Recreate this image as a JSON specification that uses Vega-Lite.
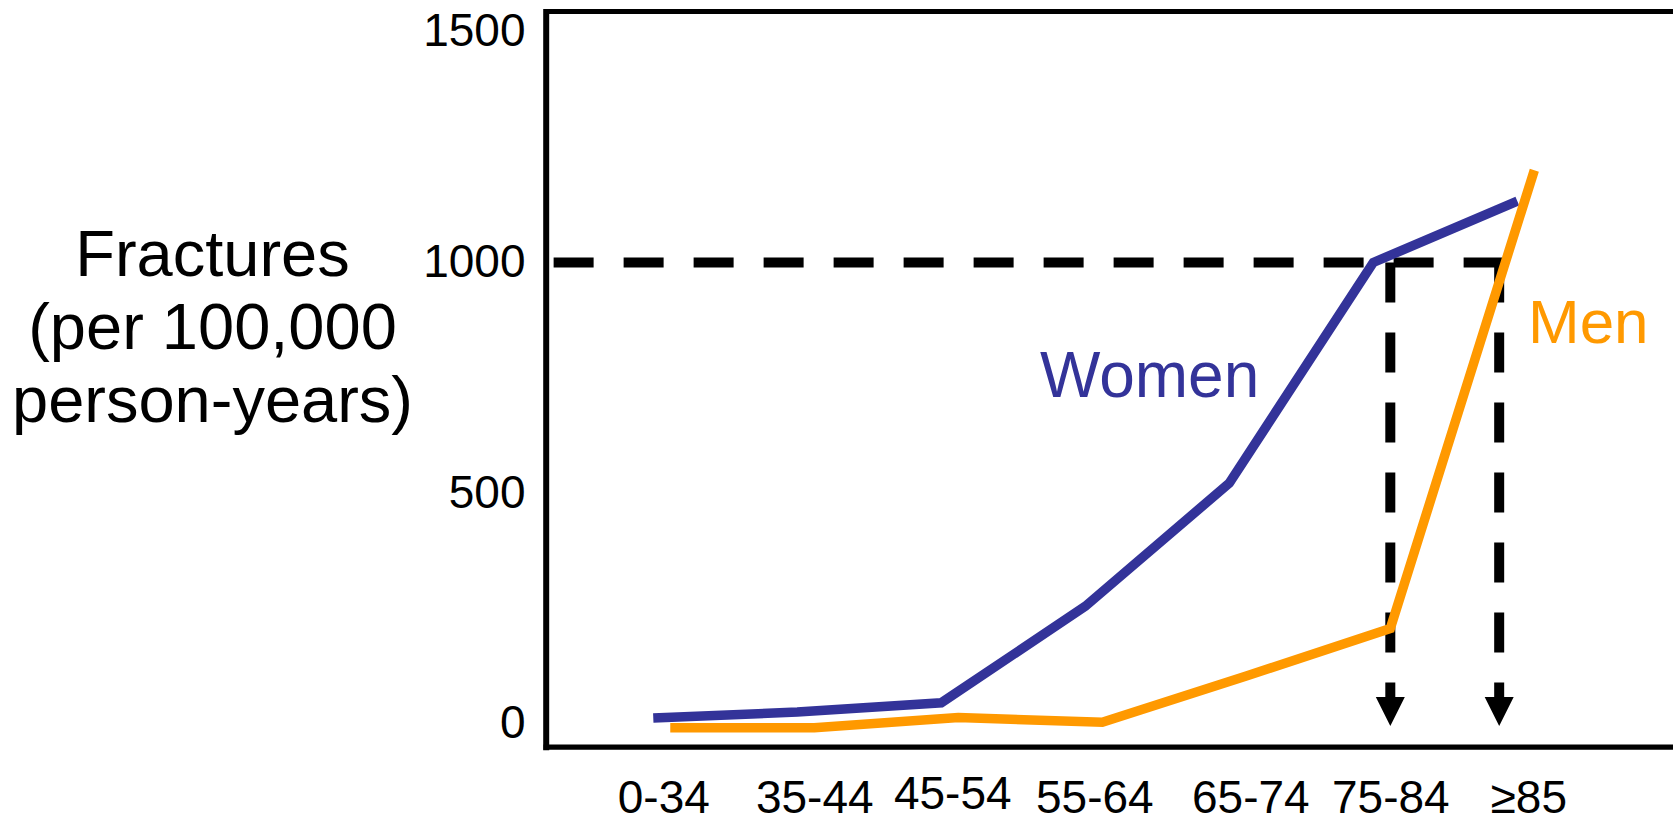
{
  "$schema": "https://vega.github.io/schema/vega-lite/v6.json",
  "width": 1127.3,
  "height": 735.2,
  "autosize": {"type": "none"},
  "padding": {"left": 545.7, "top": 11.5, "right": 0, "bottom": 74.3},
  "background": "white",
  "config": {"view": {"stroke": null}, "font": "Liberation Sans", "axis": {"grid": false}},
  "datasets": {
    "rates": [
      {"age": "0-34", "idx": 0, "sex": "Women", "rate": 13},
      {"age": "35-44", "idx": 1, "sex": "Women", "rate": 26},
      {"age": "45-54", "idx": 2, "sex": "Women", "rate": 46},
      {"age": "55-64", "idx": 3, "sex": "Women", "rate": 255},
      {"age": "65-74", "idx": 4, "sex": "Women", "rate": 522},
      {"age": "75-84", "idx": 5, "sex": "Women", "rate": 1000},
      {"age": "≥85", "idx": 6, "sex": "Women", "rate": 1133},
      {"age": "0-34", "idx": 0, "sex": "Men", "rate": -8},
      {"age": "35-44", "idx": 1, "sex": "Men", "rate": -8},
      {"age": "45-54", "idx": 2, "sex": "Men", "rate": 14},
      {"age": "55-64", "idx": 3, "sex": "Men", "rate": 4},
      {"age": "65-74", "idx": 4, "sex": "Men", "rate": 104},
      {"age": "75-84", "idx": 5, "sex": "Men", "rate": 207},
      {"age": "≥85", "idx": 6, "sex": "Men", "rate": 1200}
    ],
    "crossing": [
      {"sex": "Women", "idx": 5, "rate": 1000},
      {"sex": "Men", "idx": 5.756, "rate": 1000}
    ]
  },
  "layer": [
    {
      "data": {"values": [{}]},
      "mark": {"type": "rule", "color": "black", "strokeWidth": 5},
      "encoding": {"y": {"datum": 1543.9, "type": "quantitative"}}
    },
    {
      "data": {"values": [{}]},
      "mark": {"type": "rule", "color": "black", "strokeWidth": 10, "strokeDash": [40, 30]},
      "encoding": {
        "x": {"datum": -0.81, "type": "quantitative"},
        "x2": {"datum": 5.79},
        "y": {"datum": 1000, "type": "quantitative"}
      }
    },
    {
      "data": {"name": "crossing"},
      "mark": {"type": "rule", "color": "black", "strokeWidth": 10, "strokeDash": [40, 30]},
      "encoding": {
        "x": {"field": "idx", "type": "quantitative"},
        "y": {"field": "rate", "type": "quantitative"},
        "y2": {"datum": 58}
      }
    },
    {
      "data": {"name": "crossing"},
      "mark": {"type": "point", "shape": "M-1,-1L1,-1L0,1Z", "filled": true, "size": 841, "color": "black", "opacity": 1, "strokeWidth": 0},
      "encoding": {
        "x": {"field": "idx", "type": "quantitative"},
        "y": {"datum": 27, "type": "quantitative"}
      }
    },
    {
      "data": {"name": "rates"},
      "transform": [{"filter": "datum.sex === 'Women'"}],
      "mark": {"type": "line", "color": "#333399", "strokeWidth": 9.5, "xOffset": -17},
      "encoding": {
        "x": {"field": "idx", "type": "quantitative"},
        "y": {"field": "rate", "type": "quantitative"}
      }
    },
    {
      "data": {"name": "rates"},
      "transform": [{"filter": "datum.sex === 'Men'"}],
      "mark": {"type": "line", "color": "#FF9900", "strokeWidth": 9.5},
      "encoding": {
        "x": {
          "field": "idx",
          "type": "quantitative",
          "scale": {"domain": [-0.865, 6.963], "nice": false, "zero": false},
          "axis": {
            "title": null,
            "values": [0, 1, 2, 3, 4, 5, 6],
            "labelExpr": "['0-34','35-44','45-54','55-64','65-74','75-84','≥85'][datum.value]",
            "labelFont": "Liberation Sans",
            "labelFontSize": 46,
            "labelColor": "black",
            "labelBaseline": "alphabetic",
            "labelPadding": {"condition": {"test": "datum.value === 2", "value": 65.3}, "value": 69.3},
            "labelOffset": {"condition": [
              {"test": "datum.value === 0", "value": -7},
              {"test": "datum.value === 2", "value": -6},
              {"test": "datum.value === 3", "value": -8},
              {"test": "datum.value === 4", "value": 4},
              {"test": "datum.value === 6", "value": -6}
            ], "value": 0},
            "labelOverlap": false,
            "labelFlush": false,
            "labelBound": false,
            "tickColor": "white",
            "tickSize": -4,
            "tickWidth": 2,
            "domainColor": "black",
            "domainWidth": 5.3,
            "domainCap": "square"
          }
        },
        "y": {
          "field": "rate",
          "type": "quantitative",
          "scale": {"domain": [-49.2, 1543.9], "nice": false, "zero": false},
          "axis": {
            "values": [0, 100, 200, 300, 400, 500, 600, 700, 800, 900, 1000, 1100, 1200, 1300, 1400, 1500],
            "labelExpr": "datum.value % 500 === 0 ? '' + datum.value : ''",
            "labelFont": "Liberation Sans",
            "labelFontSize": 46,
            "labelColor": "black",
            "labelBaseline": "middle",
            "labelPadding": 24.7,
            "labelOverlap": false,
            "labelFlush": false,
            "labelBound": false,
            "tickColor": "white",
            "tickSize": -4,
            "tickWidth": 2,
            "domainColor": "black",
            "domainWidth": 6,
            "domainCap": "square",
            "title": ["Fractures", "(per 100,000", "person-years)"],
            "titleAngle": 0,
            "titleAlign": "center",
            "titleBaseline": "alphabetic",
            "titleX": -333.7,
            "titleY": 263.5,
            "titleFont": "Liberation Sans",
            "titleFontSize": 65,
            "titleFontWeight": "normal",
            "titleColor": "black",
            "titleLineHeight": 73
          }
        }
      }
    },
    {
      "data": {"values": [{}]},
      "mark": {"type": "text", "text": "Women", "font": "Liberation Sans", "fontSize": 64, "color": "#333399", "align": "left", "baseline": "alphabetic"},
      "encoding": {
        "x": {"datum": 2.567, "type": "quantitative"},
        "y": {"datum": 708, "type": "quantitative"}
      }
    },
    {
      "data": {"values": [{}]},
      "mark": {"type": "text", "text": "Men", "font": "Liberation Sans", "fontSize": 62, "color": "#FF9900", "align": "left", "baseline": "alphabetic"},
      "encoding": {
        "x": {"datum": 5.956, "type": "quantitative"},
        "y": {"datum": 826, "type": "quantitative"}
      }
    }
  ]
}
